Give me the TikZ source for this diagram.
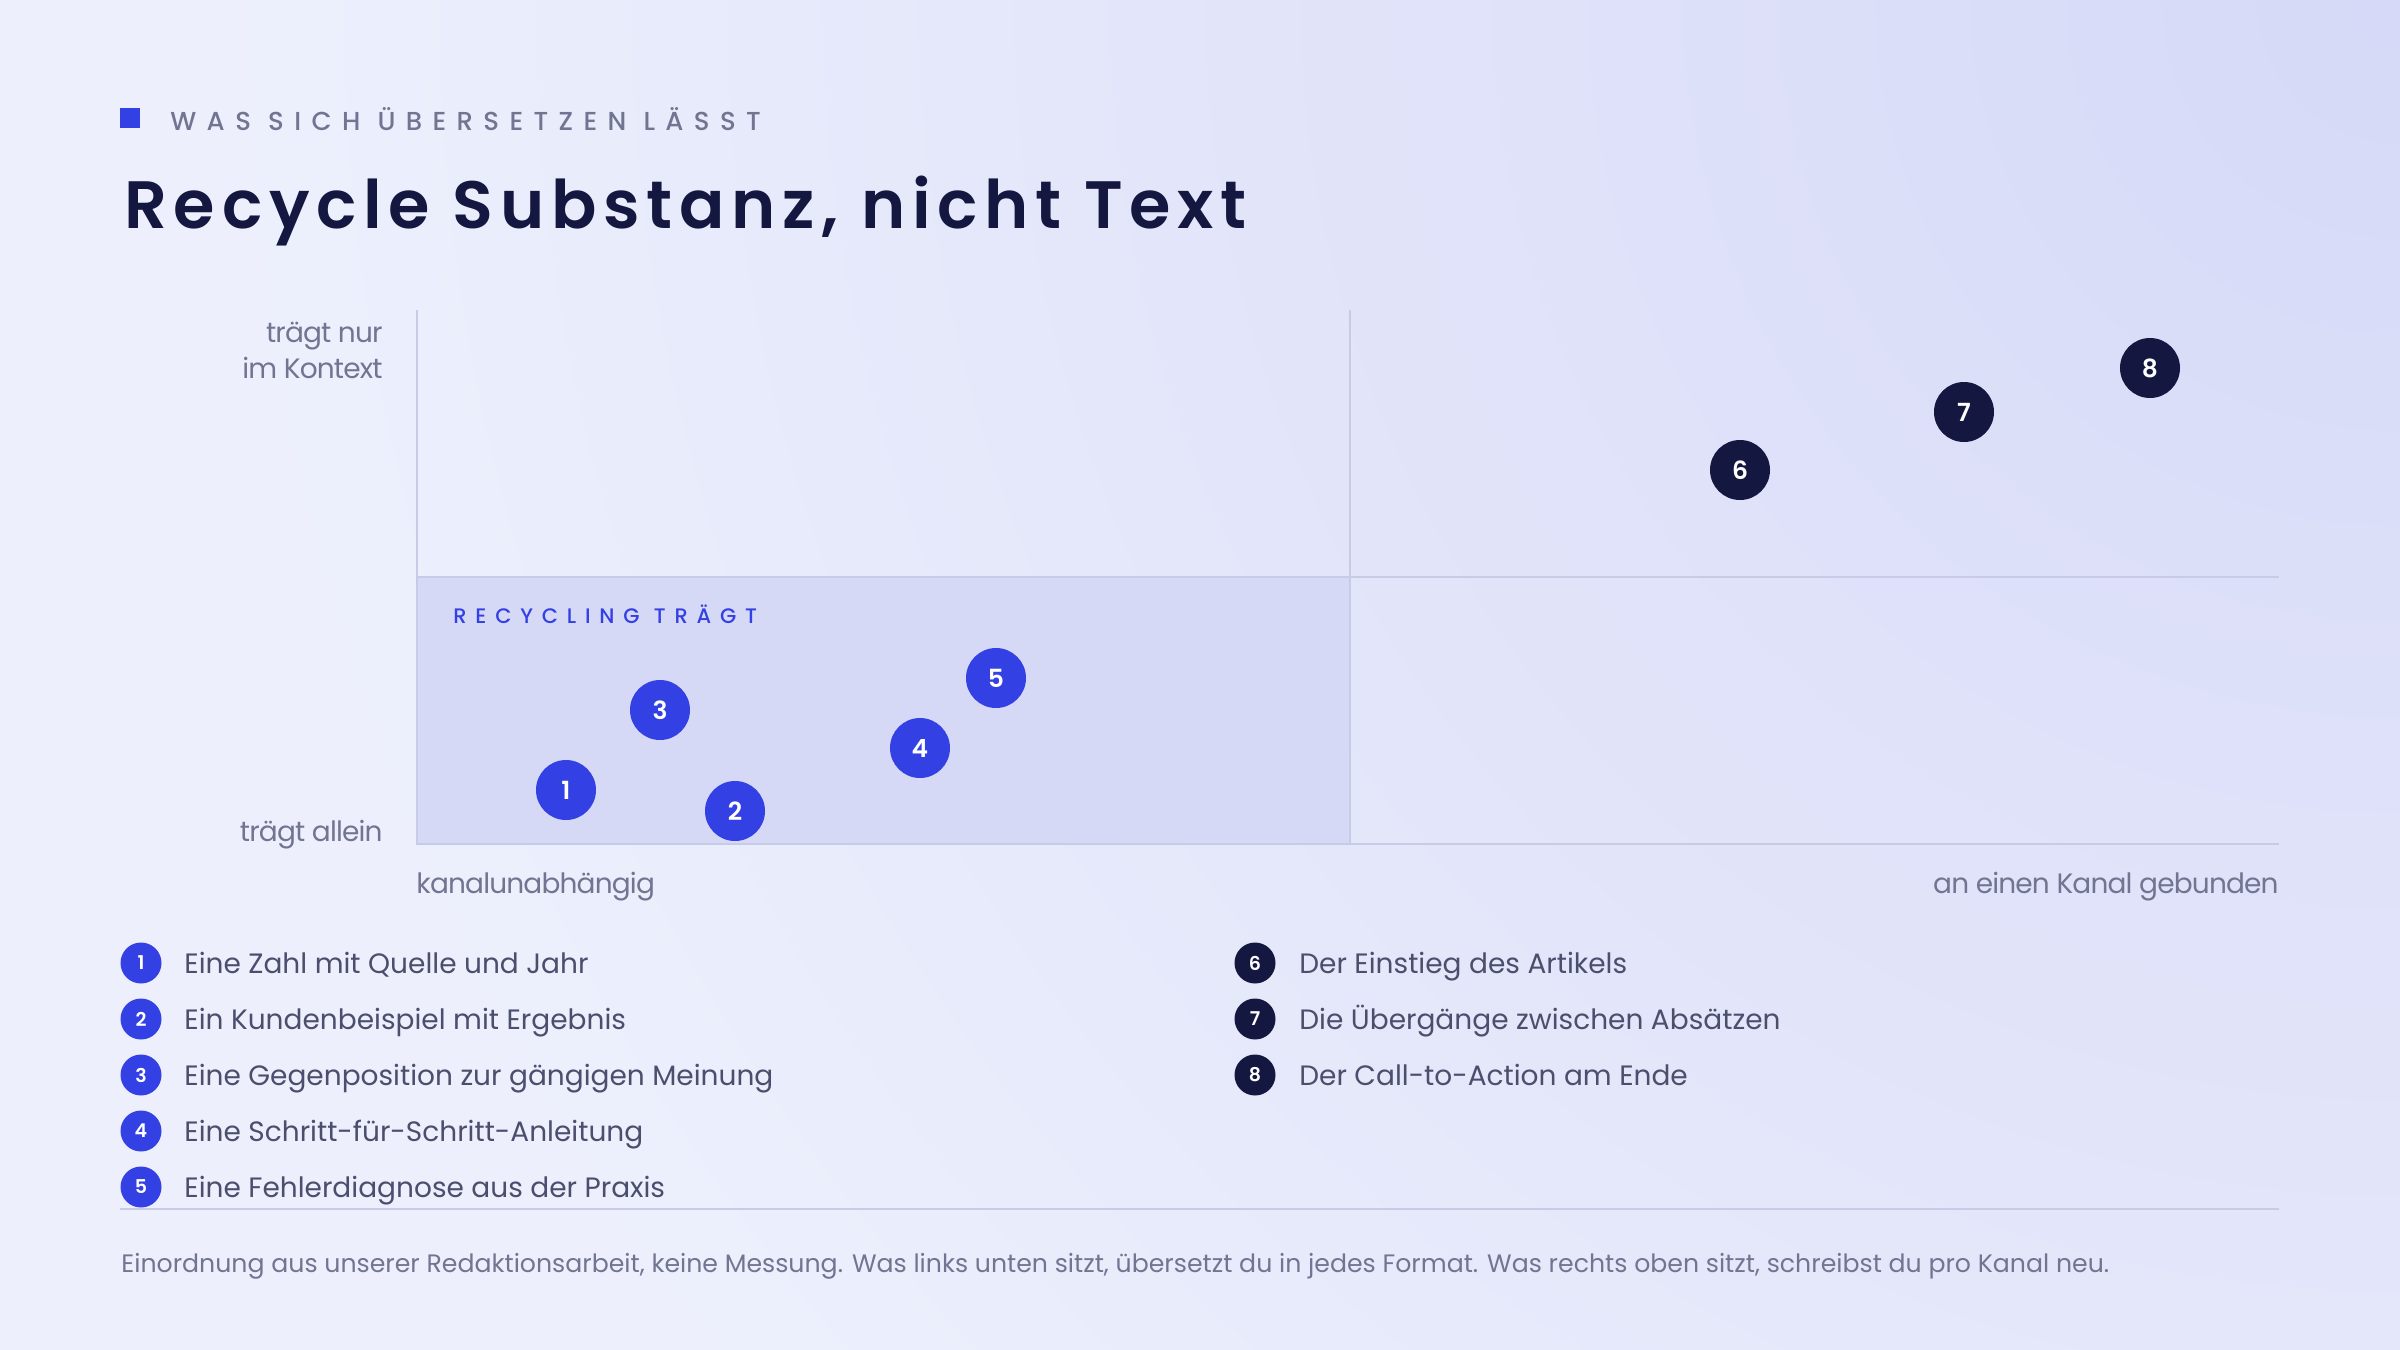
\documentclass[tikz,border=0pt]{standalone}
\usepackage{fontspec}
\setmainfont{Poppins}
\newfontfamily\titlefont{Poppins SemiBold}[LetterSpace=10]
\newfontfamily\numfont{Poppins SemiBold}
\newfontfamily\capsfont{Poppins Medium}[LetterSpace=40]
\newfontfamily\recfont{Poppins Medium}[LetterSpace=42]
\newfontfamily\axisfont{Poppins}[LetterSpace=-3]
\definecolor{bg}{HTML}{EDF0FC}
\definecolor{bgtr}{HTML}{D6D9F7}
\definecolor{accent}{HTML}{3340E3}
\definecolor{navy}{HTML}{14173F}
\definecolor{bodytext}{HTML}{4B4E6D}
\definecolor{mute}{HTML}{727592}
\definecolor{gridline}{HTML}{C8CBE5}
\definecolor{zone}{HTML}{D6D9F6}
\tikzset{
  dotb/.style={circle, fill=accent, text=white, minimum size=30pt, inner sep=0pt, font=\numfont\fontsize{12.5}{14}\selectfont},
  dotn/.style={dotb, fill=navy},
  legb/.style={circle, fill=accent, text=white, minimum size=20.5pt, inner sep=0pt, font=\numfont\fontsize{9.5}{11}\selectfont},
  legn/.style={legb, fill=navy},
  legtext/.style={anchor=base west, inner sep=0pt, text=bodytext, font=\fontsize{14}{16}\selectfont},
  axlabel/.style={inner sep=0pt, text=mute, font=\axisfont\fontsize{14}{17}\selectfont},
  gridl/.style={draw=gridline, line width=1pt},
}
\begin{document}
\begin{tikzpicture}[x=0.5pt,y=-0.5pt]
\useasboundingbox (0,0) rectangle (2400,1350);
\begin{scope}
  \clip (0,0) rectangle (2400,1350);
  \fill[bg] (0,0) rectangle (2400,1350);
  \shade[inner color=bgtr, outer color=bg] (2400,0) circle (2200);
\end{scope}

% header
\fill[accent] (120,108) rectangle (140,128);
\node[anchor=base west, inner sep=0pt, text=mute, font=\capsfont\fontsize{13}{15}\selectfont] (kicker) at (170,130) {WAS SICH ÜBERSETZEN LÄSST};
\node[anchor=base west, inner sep=0pt, text=navy, font=\titlefont\fontsize{33.5}{40}\selectfont] (title) at (124,228) {Recycle Substanz, nicht Text};

% chart
\fill[zone] (417,577) rectangle (1350,844);
\draw[gridl] (1350,310) -- (1350,844);
\draw[gridl] (417,577) -- (2279,577);
\draw[gridl] (417,310) -- (417,844) -- (2279,844);
\node[anchor=base west, inner sep=0pt, text=accent, font=\recfont\fontsize{10.5}{12}\selectfont] (zonelabel) at (453,623) {RECYCLING TRÄGT};

\node[axlabel, anchor=base east] (ytop1) at (383,342) {trägt nur};
\node[axlabel, anchor=base east] (ytop2) at (383,378) {im Kontext};
\node[axlabel, anchor=base east] (ybot) at (383,841) {trägt allein};
\node[axlabel, anchor=base west] (xleft) at (416,893) {kanalunabhängig};
\node[axlabel, anchor=base east] (xright) at (2279,893) {an einen Kanal gebunden};

\node[dotb] (p1) at (566,790) {1};
\node[dotb] (p2) at (735,811) {2};
\node[dotb] (p3) at (660,710) {3};
\node[dotb] (p4) at (920,748) {4};
\node[dotb] (p5) at (996,678) {5};
\node[dotn] (p6) at (1740,470) {6};
\node[dotn] (p7) at (1964,412) {7};
\node[dotn] (p8) at (2150,368) {8};

% legend
\node[legb] (l1) at (141,963) {1};
\node[legb] (l2) at (141,1019) {2};
\node[legb] (l3) at (141,1075) {3};
\node[legb] (l4) at (141,1131) {4};
\node[legb] (l5) at (141,1187) {5};
\node[legtext] (t1) at (184,973) {Eine Zahl mit Quelle und Jahr};
\node[legtext] (t2) at (184,1029) {Ein Kundenbeispiel mit Ergebnis};
\node[legtext] (t3) at (184,1085) {Eine Gegenposition zur gängigen Meinung};
\node[legtext] (t4) at (184,1141) {Eine Schritt-für-Schritt-Anleitung};
\node[legtext] (t5) at (184,1197) {Eine Fehlerdiagnose aus der Praxis};
\node[legn] (l6) at (1255,963) {6};
\node[legn] (l7) at (1255,1019) {7};
\node[legn] (l8) at (1255,1075) {8};
\node[legtext] (t6) at (1299,973) {Der Einstieg des Artikels};
\node[legtext] (t7) at (1299,1029) {Die Übergänge zwischen Absätzen};
\node[legtext] (t8) at (1299,1085) {Der Call-to-Action am Ende};

% footer
\draw[draw=gridline, line width=1.2pt] (120,1209) -- (2279,1209);
\node[anchor=base west, inner sep=0pt, text=mute, font=\fontsize{12.6}{14}\selectfont] (foot) at (121,1272) {Einordnung aus unserer Redaktionsarbeit, keine Messung. Was links unten sitzt, übersetzt du in jedes Format. Was rechts oben sitzt, schreibst du pro Kanal neu.};
\end{tikzpicture}
\end{document}
